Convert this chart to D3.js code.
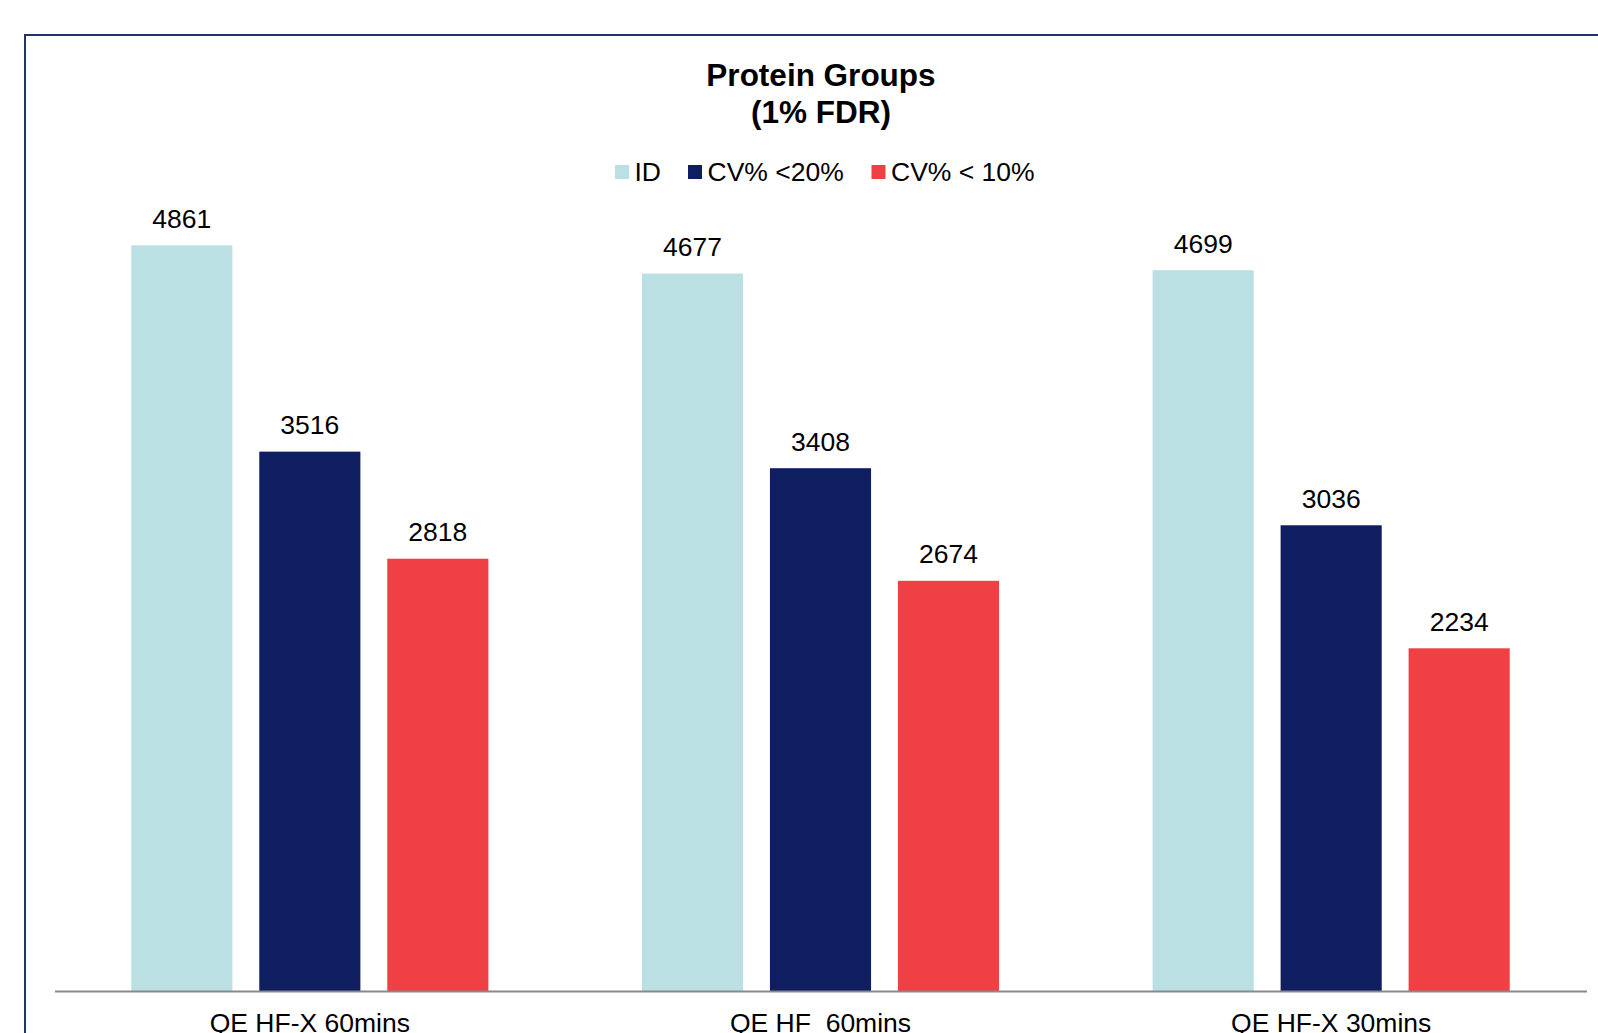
<!DOCTYPE html>
<html>
<head>
<meta charset="utf-8">
<script src="https://cdn.jsdelivr.net/npm/d3@7"></script>
<style>
  body { margin: 0; background: #fff; }
  text { font-family: 'Liberation Sans', Arial, sans-serif; fill: #000; }
</style>
</head>
<body>
<svg id="chart"></svg>
<script>
const categories = ['QE HF-X 60mins', 'QE HF  60mins', 'QE HF-X 30mins'];
const seriesNames = ['ID', 'CV% <20%', 'CV% < 10%'];
const idValues = [4861, 4677, 4699];
const cv20Values = [3516, 3408, 3036];
const cv10Values = [2818, 2674, 2234];
const seriesColors = ['#bbe0e3', '#0f1e60', '#ef4043'];

const width = 1598;
const height = 1033;
const margin = { top: 224, bottom: 42, left: 54.5, right: 11.5 };

const seriesValues = [idValues, cv20Values, cv10Values];
const data = categories.map((c, i) => ({
  category: c,
  values: seriesNames.map((s, j) => ({ key: s, value: seriesValues[j][i] }))
}));

const svg = d3.select('#chart')
  .attr('width', width)
  .attr('height', height);

// outer frame (runs off the right and bottom edges)
svg.append('rect')
  .attr('x', 25)
  .attr('y', 35)
  .attr('width', 1700)
  .attr('height', 1200)
  .attr('fill', 'none')
  .attr('stroke', '#1f3467')
  .attr('stroke-width', 2);

const innerWidth = width - margin.left - margin.right;
const innerHeight = height - margin.top - margin.bottom;

const x0 = d3.scaleBand()
  .domain(categories)
  .range([0, innerWidth])
  .padding(0);

const x1 = d3.scaleBand()
  .domain(seriesNames)
  .range([0, x0.bandwidth()])
  .paddingInner(0.21)
  .paddingOuter(0.6);

const yScale = d3.scaleLinear()
  .domain([0, 5000])
  .range([innerHeight, 0]);

const color = d3.scaleOrdinal().domain(seriesNames).range(seriesColors);

const g = svg.append('g')
  .attr('transform', `translate(${margin.left}, ${margin.top})`);

const groups = g.selectAll('.group')
  .data(data)
  .enter().append('g')
  .attr('class', 'group')
  .attr('transform', d => `translate(${x0(d.category)}, 0)`);

groups.selectAll('rect')
  .data(d => d.values)
  .enter().append('rect')
  .attr('x', d => x1(d.key))
  .attr('y', d => yScale(d.value))
  .attr('width', x1.bandwidth())
  .attr('height', d => innerHeight - yScale(d.value))
  .attr('fill', d => color(d.key));

groups.selectAll('.value')
  .data(d => d.values)
  .enter().append('text')
  .attr('class', 'value')
  .attr('x', d => x1(d.key) + x1.bandwidth() / 2)
  .attr('y', d => yScale(d.value) - 17.5)
  .attr('text-anchor', 'middle')
  .style('font-size', '26.5px')
  .text(d => d.value);

// baseline + category labels
const xAxis = g.append('g')
  .attr('transform', `translate(0, ${innerHeight})`)
  .call(d3.axisBottom(x0).tickSize(0).tickPadding(22.5));
xAxis.select('.domain')
  .attr('stroke', '#898989')
  .attr('stroke-width', 2);
xAxis.selectAll('text')
  .style('font-size', '26.5px')
  .style('white-space', 'pre')
  .attr('fill', '#000');

// title
const title = svg.append('text')
  .attr('text-anchor', 'middle')
  .style('font-size', '31.5px')
  .style('font-weight', 'bold');
title.append('tspan').attr('x', 821).attr('y', 85.5).text('Protein Groups');
title.append('tspan').attr('x', 821).attr('y', 123).text('(1% FDR)');

// legend
const legendX = [615, 688, 871.5];
const legend = svg.append('g');
const items = legend.selectAll('g')
  .data(seriesNames)
  .enter().append('g')
  .attr('transform', (d, i) => `translate(${legendX[i]}, 165)`);
items.append('rect')
  .attr('width', 14)
  .attr('height', 14)
  .attr('fill', d => color(d));
items.append('text')
  .attr('x', 19.5)
  .attr('y', 16)
  .style('font-size', '26.5px')
  .style('white-space', 'pre')
  .text(d => d);
</script>
</body>
</html>
